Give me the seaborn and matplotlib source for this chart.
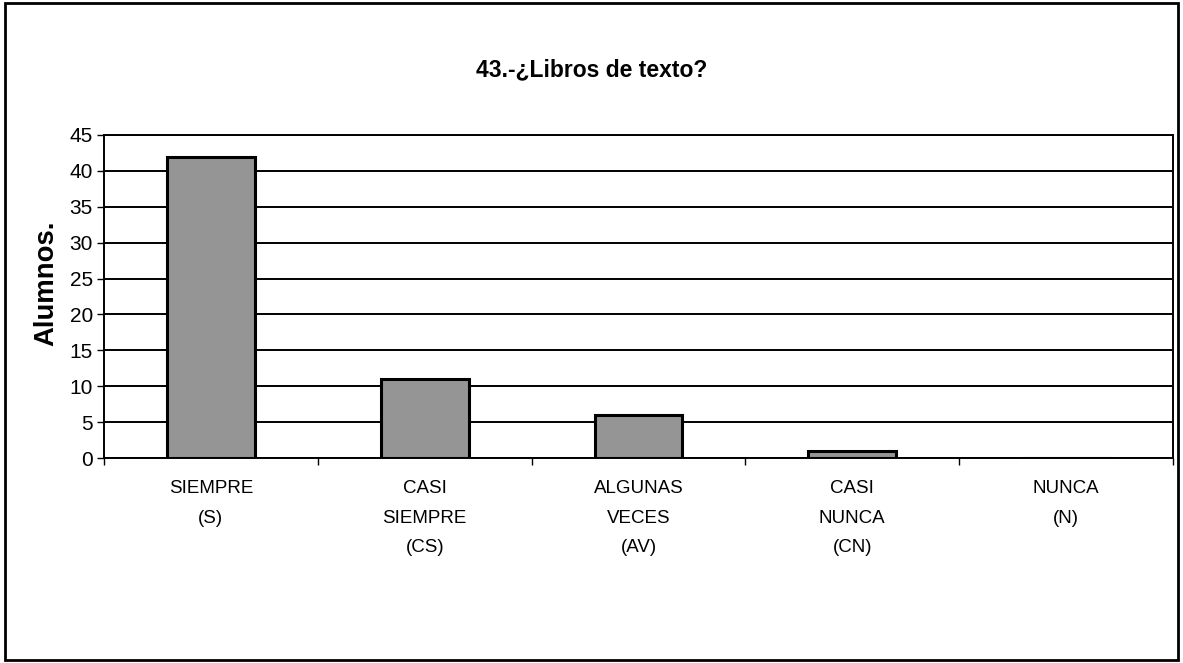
import matplotlib
matplotlib.use("Agg")
import matplotlib.pyplot as plt
import seaborn as sns
import pandas as pd
import numpy as np
from matplotlib.patches import Rectangle

categories = ["SIEMPRE\n(S)", "CASI\nSIEMPRE\n(CS)", "ALGUNAS\nVECES\n(AV)", "CASI\nNUNCA\n(CN)", "NUNCA\n(N)"]
values = [42, 11, 6, 1, 0]
yticks = [0, 5, 10, 15, 20, 25, 30, 35, 40, 45]
title = "43.-¿Libros de texto?"
ylabel = "Alumnos."

sns.set_theme(style="white")
plt.rcParams['font.family'] = ['Liberation Sans', 'DejaVu Sans']
plt.rcParams['text.color'] = 'black'
plt.rcParams['axes.labelcolor'] = 'black'
plt.rcParams['xtick.color'] = 'black'
plt.rcParams['ytick.color'] = 'black'

df = pd.DataFrame({"cat": categories, "val": values})

fig = plt.figure(figsize=(11.83, 6.63), dpi=100)
ax = fig.add_axes([104/1183, (663-458)/663, 1069/1183, 323/663])

sns.barplot(data=df, x="cat", y="val", ax=ax, color="#959595", width=0.41,
            edgecolor="black", linewidth=2.2, saturation=1, zorder=3)

ax.set_ylim(0, 45)
ax.set_xlim(-0.5, len(categories) - 0.5)
ax.set_yticks(yticks)
ax.set_yticklabels([str(t) for t in yticks], fontsize=15, color="black")
ax.yaxis.grid(True, color="black", linewidth=1.4, zorder=0)
ax.set_axisbelow(True)
ax.set_xlabel("")
ax.set_ylabel(ylabel, fontsize=19.8, fontweight="bold", labelpad=7.5, color="black")
ax.yaxis.label.set_y(0.542)
ax.tick_params(axis="x", which="major", length=0, labelsize=13.5, pad=16, labelcolor="black")
for lbl in ax.get_xticklabels():
    lbl.set_linespacing(1.95)
ax.set_xticks(np.arange(-0.5, len(categories), 1.0), minor=True)
ax.tick_params(axis="x", which="minor", length=5, width=1, direction="out", color="black", bottom=True)
ax.tick_params(axis="y", length=5, width=1, direction="out", color="black", left=True, pad=3)
for s in ax.spines.values():
    s.set_color("black")
    s.set_linewidth(1.4)

fig.text(0.5, 1 - 70/663, title, ha="center", va="center", fontsize=16.5, fontweight="bold", color="black")
fig.patches.append(Rectangle((0.004, 0.004), 0.992, 0.992, transform=fig.transFigure,
                             fill=False, edgecolor="black", linewidth=2))

fig.savefig("out.png", dpi=100)
